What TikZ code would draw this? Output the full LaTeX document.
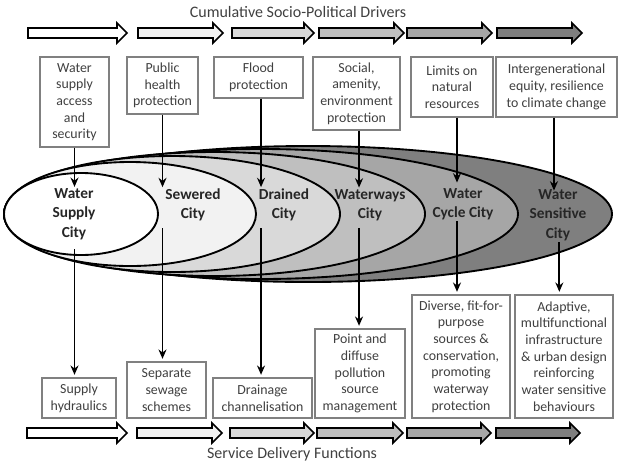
\documentclass[tikz,border=0pt]{standalone}
\usepackage{fontspec}
\setmainfont{Carlito}
\usetikzlibrary{arrows.meta}
\definecolor{txt}{HTML}{404040}
\definecolor{boxline}{HTML}{808080}
\definecolor{gA}{HTML}{FFFFFF}
\definecolor{gB}{HTML}{F2F2F2}
\definecolor{gC}{HTML}{D9D9D9}
\definecolor{gD}{HTML}{BFBFBF}
\definecolor{gE}{HTML}{A6A6A6}
\definecolor{gF}{HTML}{7F7F7F}
\newcommand\blockarr[4]{%
  \draw[blockarrow, fill=#4] (#1,#3-5) -- (#2-10,#3-5) -- (#2-10,#3-10) -- (#2,#3)
    -- (#2-10,#3+10) -- (#2-10,#3+5) -- (#1,#3+5) -- cycle;}
\tikzset{
  blockarrow/.style={draw=black, line width=1.2pt, line join=miter},
  ellline/.style={draw=black, line width=1.4pt},
  txtbox/.style={draw=boxline, line width=0.8pt, fill=white, text=txt, align=center,
    font=\fontsize{10.4}{12.5}\selectfont, inner sep=0.5pt, anchor=center},
  citylab/.style={text=black!85, align=center, font=\fontsize{11.5}{14.5}\selectfont\bfseries, inner sep=1pt},
  conn/.style={draw=black, line width=1.3pt, -{Stealth[length=7pt, width=6pt]}},
  heading/.style={text=txt, font=\fontsize{12}{14}\selectfont}
}
\begin{document}
\begin{tikzpicture}[x=0.75pt, y=-0.75pt]
\useasboundingbox (0,0) rectangle (620,465);
% headings
\node[heading] (toph) at (298,12) {Cumulative Socio-Political Drivers};
\node[heading] (both) at (292,454) {Service Delivery Functions};
% block arrows top
\blockarr{28}{127}{33}{gA}
\blockarr{138}{223}{33}{gB}
\blockarr{232}{314}{33}{gC}
\blockarr{319}{404}{33}{gD}
\blockarr{407}{492}{33}{gE}
\blockarr{497}{582}{33}{gF}
% block arrows bottom
\blockarr{27}{127}{433}{gA}
\blockarr{137}{222}{433}{gB}
\blockarr{230}{314}{433}{gC}
\blockarr{317}{403}{433}{gD}
\blockarr{407}{491}{433}{gE}
\blockarr{496}{580}{433}{gF}
% ellipses (pt radii: px*0.75)
\filldraw[ellline, fill=gF] (308,214) ellipse [x radius=228pt, y radius=51pt];
\filldraw[ellline, fill=gE] (261,214) ellipse [x radius=192.75pt, y radius=48.75pt];
\filldraw[ellline, fill=gD] (214.5,214) ellipse [x radius=157.9pt, y radius=46.5pt];
\filldraw[ellline, fill=gC] (172,214) ellipse [x radius=126pt, y radius=43.5pt];
\filldraw[ellline, fill=gB] (130,214) ellipse [x radius=94.5pt, y radius=39pt];
\filldraw[ellline, fill=gA] (81,214) ellipse [x radius=57.75pt, y radius=30.75pt];
% city labels
\node[citylab] (c1) at (74,214) {Water\\Supply\\City};
\node[citylab] (c2) at (193,205) {Sewered\\City};
\node[citylab] (c3) at (284,205) {Drained\\City};
\node[citylab] (c4) at (370,205) {Waterways\\City};
\node[citylab] (c5) at (463,204) {Water\\Cycle City};
\node[citylab] (c6) at (558,215) {Water\\Sensitive\\City};
% top boxes
\node[txtbox, minimum width=51.75pt, minimum height=67.5pt] (tb1) at (74.5,102) {Water\\supply\\access\\and\\security};
\node[txtbox, minimum width=53.25pt, minimum height=42.75pt] (tb2) at (162.5,85.5) {Public\\health\\protection};
\node[txtbox, minimum width=66.75pt, minimum height=30.75pt] (tb3) at (258.5,77.5) {Flood\\protection};
\node[txtbox, minimum width=65.25pt, minimum height=54.75pt] (tb4) at (356.5,93.5) {Social,\\amenity,\\environment\\protection};
\node[txtbox, minimum width=61.5pt, minimum height=45pt] (tb5) at (452,87) {Limits on\\natural\\resources};
\node[txtbox, minimum width=90.75pt, minimum height=45pt] (tb6) at (556.5,87) {Intergenerational\\equity, resilience\\to climate change};
% bottom boxes
\node[txtbox, minimum width=55.5pt, minimum height=30pt] (bb1) at (79,398) {Supply\\hydraulics};
\node[txtbox, minimum width=59.25pt, minimum height=42pt] (bb2) at (166.5,390) {Separate\\sewage\\schemes};
\node[txtbox, minimum width=74.25pt, minimum height=30pt] (bb3) at (262.5,398) {Drainage\\channelisation};
\node[txtbox, minimum width=67.5pt, minimum height=66.75pt] (bb4) at (360,373.5) {Point and\\diffuse\\pollution\\source\\management};
\node[txtbox, minimum width=73.5pt, minimum height=92.25pt] (bb5) at (461,356.5) {Diverse, fit-for-\\purpose\\sources \&\\conservation,\\promoting\\waterway\\protection};
\node[txtbox, minimum width=73.5pt, minimum height=92.25pt] (bb6) at (564,356.5) {Adaptive,\\multifunctional\\infrastructure\\\& urban design\\reinforcing\\water sensitive\\behaviours};
% connectors: drivers -> cities
\draw[conn] (tb1.south) -- (tb1.south |- c1.north);
\draw[conn] (tb2.south) -- (tb2.south |- c2.north);
\draw[conn] ([xshift=1.9pt]tb3.south) -- ([xshift=1.9pt]tb3.south |- c3.north);
\draw[conn] ([xshift=1.9pt]tb4.south) -- ([xshift=1.9pt]tb4.south |- c4.north);
\draw[conn] ([xshift=3.75pt]tb5.south) -- ([xshift=3.75pt,yshift=3pt]tb5.south |- c5.north);
\draw[conn] ([xshift=-1.9pt]tb6.south) -- ([xshift=-1.9pt,yshift=-2pt]tb6.south |- c6.north);
% connectors: cities -> service functions
\draw[conn] ([yshift=-6pt]tb1.south |- c1.south) -- ([yshift=2pt]tb1.south |- bb1.north);
\draw[conn] ([yshift=-4pt]tb2.south |- c2.south) -- ([yshift=2pt]tb2.south |- bb2.north);
\draw[conn] ([xshift=1.9pt,yshift=-4pt]tb3.south |- c3.south) -- ([xshift=1.9pt,yshift=2pt]tb3.south |- bb3.north);
\draw[conn] ([xshift=1.9pt,yshift=-4pt]tb4.south |- c4.south) -- ([xshift=1.9pt,yshift=2pt]tb4.south |- bb4.north);
\draw[conn] ([xshift=3.75pt,yshift=0pt]tb5.south |- c5.south) -- ([xshift=3.75pt,yshift=2pt]tb5.south |- bb5.north);
\draw[conn] ([xshift=1pt]c6.south) -- ([xshift=1pt,yshift=2pt]c6.south |- bb6.north);
\end{tikzpicture}
\end{document}
